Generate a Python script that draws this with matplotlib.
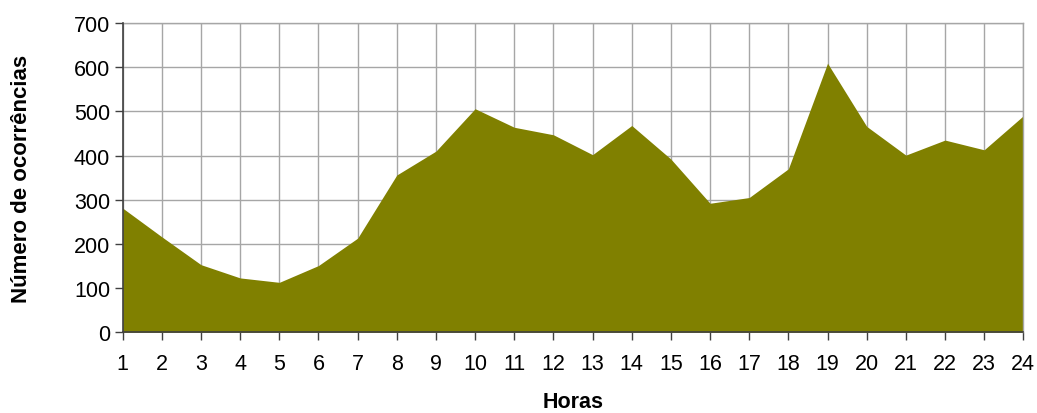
import matplotlib
matplotlib.use("Agg")
import matplotlib.pyplot as plt

horas = list(range(1, 25))
ocorrencias = [281, 216, 153, 123, 113, 151, 213, 356, 410, 506, 464, 447,
               402, 468, 392, 292, 305, 370, 609, 466, 401, 435, 413, 490]
y_ticks = [0, 100, 200, 300, 400, 500, 600, 700]

plt.rcParams['font.family'] = ['Liberation Sans', 'DejaVu Sans']

fig = plt.figure(figsize=(10.37, 4.14), dpi=100)
ax = fig.add_axes([0.1183, 0.195, 0.9868 - 0.1183, 0.942 - 0.195])

ax.fill_between(horas, ocorrencias, 0, color='#808000', linewidth=0, zorder=2)

ax.set_xlim(1, 24)
ax.set_ylim(0, 700)
ax.set_xticks(horas)
ax.set_yticks(y_ticks)
ax.grid(True, color='#a6a6a6', linewidth=1.0, zorder=1)
ax.set_axisbelow(True)

for s in ['top', 'right']:
    ax.spines[s].set_color('#a6a6a6')
    ax.spines[s].set_linewidth(1.0)
for s in ['left', 'bottom']:
    ax.spines[s].set_color('#404040')
    ax.spines[s].set_linewidth(1.2)
    ax.spines[s].set_zorder(3)

ax.tick_params(axis='both', direction='out', length=6, width=1, color='#404040',
               labelsize=15.5, labelcolor='black')
ax.tick_params(axis='x', pad=9)
ax.tick_params(axis='y', pad=3)

ax.set_xlabel('Horas', fontsize=15.5, fontweight='bold', labelpad=12.5)
ax.set_ylabel('Número de ocorrências', fontsize=16, fontweight='bold', labelpad=30)

fig.savefig('out.png', dpi=100)
